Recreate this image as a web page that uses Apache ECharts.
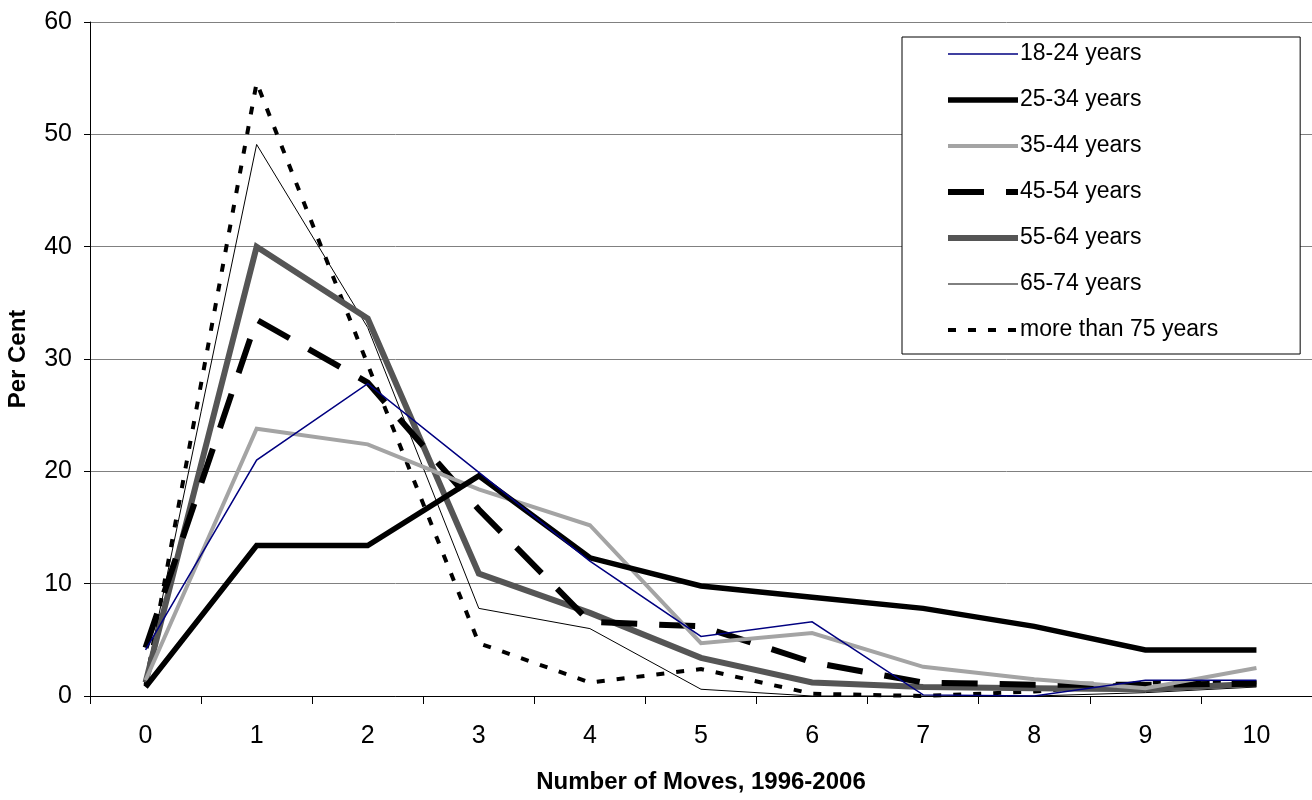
<!DOCTYPE html>
<html><head><meta charset="utf-8">
<script src="https://cdn.jsdelivr.net/npm/echarts@6/dist/echarts.min.js"></script>
<style>html,body{margin:0;padding:0;background:#fff}#c{width:1312px;height:800px}</style>
</head><body><div id="c"></div>
<script>
const categories = ['0','1','2','3','4','5','6','7','8','9','10'];
const yTicks = [0,10,20,30,40,50,60];
const s18_24 = [4.1, 21.0, 27.8, 19.9, 12.0, 5.3, 6.6, 0.1, 0.0, 1.4, 1.4];
const s25_34 = [0.8, 13.4, 13.4, 19.6, 12.3, 9.8, 8.8, 7.8, 6.2, 4.1, 4.1];
const s35_44 = [1.4, 23.8, 22.4, 18.4, 15.2, 4.7, 5.6, 2.6, 1.5, 0.7, 2.5];
const s45_54 = [4.3, 33.5, 27.9, 16.6, 6.6, 6.2, 3.0, 1.2, 1.0, 1.0, 1.1];
const s55_64 = [1.2, 40.0, 33.6, 10.9, 7.4, 3.4, 1.2, 0.8, 0.7, 0.6, 1.1];
const s65_74 = [1.5, 49.1, 32.8, 7.8, 6.0, 0.6, 0.0, 0.0, 0.0, 0.3, 0.8];
const s75 = [1.0, 54.6, 29.5, 4.7, 1.2, 2.4, 0.2, 0.0, 0.4, 1.2, 1.2];
const names = ['18-24 years','25-34 years','35-44 years','45-54 years','55-64 years','65-74 years','more than 75 years'];

const FONT = 'Liberation Sans, Arial, sans-serif';
const styles = [
  {color:'#000080', width:1.5, type:'solid'},
  {color:'#000000', width:5.5, type:'solid'},
  {color:'#a4a4a4', width:4, type:'solid'},
  {color:'#000000', width:6, type:[36,22]},
  {color:'#555555', width:6, type:'solid'},
  {color:'#000000', width:1, type:'solid'},
  {color:'#000000', width:4, type:[8,12]}
];
const dataSets = [s18_24, s25_34, s35_44, s45_54, s55_64, s65_74, s75];
const series = dataSets.map((d,i)=>({
  name: names[i], type:'line', data:d, symbol:'none', showSymbol:false,
  lineStyle:{color:styles[i].color, width:styles[i].width, type:styles[i].type, cap:'butt', join:'miter'},
  itemStyle:{color:styles[i].color},
  animation:false, z: 10 - i
}));
const legendData = names.map((n,i)=>({
  name:n,
  itemStyle:{opacity:0},
  lineStyle:{color:styles[i].color, width:styles[i].width, type:styles[i].type, cap:'butt'}
}));

const chart = echarts.init(document.getElementById('c'));
chart.setOption({
  animation:false,
  textStyle:{fontFamily:FONT},
  grid:{left:90, right:0, top:22, bottom:104, containLabel:false, outerBoundsMode:'none'},
  legend:{
    orient:'vertical', left:902, top:37,
    padding:[4,82,11,43], itemGap:20, itemWidth:70, itemHeight:14,
    borderColor:'#000', borderWidth:1, backgroundColor:'#fff',
    itemStyle:{opacity:0},
    textStyle:{fontSize:23, color:'#000', fontFamily:FONT, lineHeight:26, padding:[0,0,0,-3]},
    data:legendData
  },
  xAxis:{
    type:'category', data:categories, boundaryGap:true,
    name:'Number of Moves, 1996-2006', nameLocation:'middle', nameGap:74,
    nameTextStyle:{fontSize:24, fontWeight:'bold', color:'#000', fontFamily:FONT},
    axisLine:{lineStyle:{color:'#000', width:1}},
    axisTick:{show:true, alignWithLabel:false, length:8, lineStyle:{color:'#000'}},
    axisLabel:{fontSize:25, color:'#000', margin:28, fontFamily:FONT},
    splitLine:{show:false}
  },
  yAxis:{
    type:'value', min:yTicks[0], max:yTicks[yTicks.length-1], interval:10,
    name:'Per Cent', nameLocation:'middle', nameGap:60, nameRotate:90,
    nameTextStyle:{fontSize:24, fontWeight:'bold', color:'#000', fontFamily:FONT},
    axisLine:{show:true, lineStyle:{color:'#000', width:1}},
    axisTick:{show:true, length:6, inside:false, lineStyle:{color:'#000'}},
    axisLabel:{fontSize:25, color:'#000', margin:18, fontFamily:FONT},
    splitLine:{show:true, lineStyle:{color:'#808080', width:1}}
  },
  series: series
});
</script></body></html>
